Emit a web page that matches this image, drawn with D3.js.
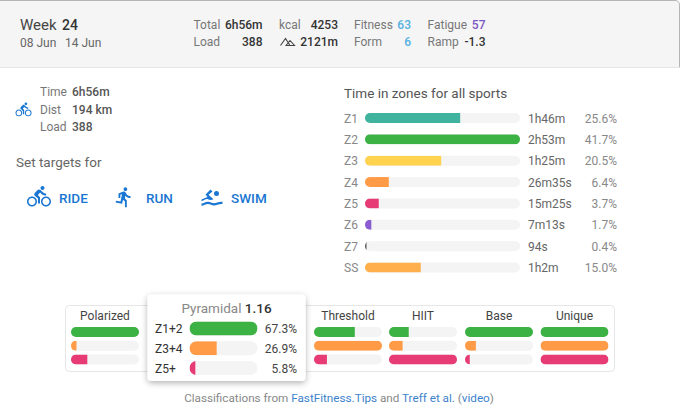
<!DOCTYPE html>
<html>
<head>
<meta charset="utf-8">
<script src="https://cdn.jsdelivr.net/npm/d3@7"></script>
<style>
    html, body { margin: 0; padding: 0; background: #fff; overflow: hidden; }
    svg { display: block; font-family: Roboto, sans-serif; }
    .lbl { fill: #777; }
    .val { fill: #333; font-weight: 500; }
</style>
</head>
<body>
<div id="chart"></div>
<script>
// zone bars
const zones = ["Z1", "Z2", "Z3", "Z4", "Z5", "Z6", "Z7", "SS"];
const zonePct = [25.6, 41.7, 20.5, 6.4, 3.7, 1.7, 0.4, 15.0];
const zoneTime = ["1h46m", "2h53m", "1h25m", "26m35s", "15m25s", "7m13s", "94s", "1h2m"];
const zoneColors = ["#3fb39d", "#3cb144", "#ffd24f", "#ff9a46", "#e63b75", "#8a5cd1", "#555555", "#ffb04c"];

// classification mini bars, each row relative to a full track
const models = ["Polarized", "Threshold", "HIIT", "Base", "Unique"];
const polarized = [100, 8, 24];
const threshold = [60, 100, 19];
const hiit = [29, 20, 100];
const base = [100, 16, 7];
const unique = [100, 100, 100];
const modelValues = [polarized, threshold, hiit, base, unique];
const groupColors = ["#3cb144", "#ff9a46", "#e63b75"];

// the highlighted classification
const pyrLabels = ["Z1+2", "Z3+4", "Z5+"];
const pyrPct = [67.3, 26.9, 5.8];

const W = 680, H = 408;
const svg = d3.select("#chart").append("svg").attr("width", W).attr("height", H);
const defs = svg.append("defs");
const shadow = defs.append("filter").attr("id", "shadow")
    .attr("x", "-10%").attr("y", "-10%").attr("width", "120%").attr("height", "125%");
shadow.append("feDropShadow").attr("dx", 0).attr("dy", 2).attr("stdDeviation", 3)
    .attr("flood-color", "#000").attr("flood-opacity", 0.3);

const BIKE = "M15.5 5.5c1.1 0 2-.9 2-2s-.9-2-2-2-2 .9-2 2 .9 2 2 2zM5 12c-2.8 0-5 2.2-5 5s2.2 5 5 5 5-2.2 5-5-2.2-5-5-5zm0 8.5c-1.9 0-3.5-1.6-3.5-3.5s1.6-3.5 3.5-3.5 3.5 1.6 3.5 3.5-1.6 3.5-3.5 3.5zm5.8-10l2.4-2.4.8.8c1.3 1.3 3 2.1 5.1 2.1V9c-1.5 0-2.7-.6-3.6-1.5l-1.9-1.9c-.5-.4-1-.6-1.6-.6s-1.1.2-1.4.6L7.8 8.4c-.4.4-.6.9-.6 1.4 0 .6.2 1.1.6 1.4L11 14v5h2v-6.2l-2.2-2.3zM19 12c-2.8 0-5 2.2-5 5s2.2 5 5 5 5-2.2 5-5-2.2-5-5-5zm0 8.5c-1.9 0-3.5-1.6-3.5-3.5s1.6-3.5 3.5-3.5 3.5 1.6 3.5 3.5-1.6 3.5-3.5 3.5z";
const RUN = "M13.49 5.48c1.1 0 2-.9 2-2s-.9-2-2-2-2 .9-2 2 .9 2 2 2zm-3.6 13.9l1-4.4 2.1 2v6h2v-7.5l-2.1-2 .6-3c1.3 1.5 3.3 2.5 5.5 2.5v-2c-1.9 0-3.5-1-4.3-2.4l-1-1.6c-.4-.6-1-1-1.7-1-.3 0-.5.1-.8.1l-5.2 2.2v4.7h2v-3.4l1.8-.7-1.6 8.1-4.9-1-.4 2 7 1.4z";
const SWIM = "M19 8.5a2.5 2.5 0 1 1-5 0a2.5 2.5 0 0 1 5 0zM10.5 4.5L12.5 6.5L8.500 9.800L13.500 14.200C11 15.500 9.500 15 8 14.300C6 13.500 4.500 15 1.500 16.200V14.500L7.500 12L5.500 9.500ZM1.500 18.600C4 18.500 5.500 16.800 8 16.800C10.500 16.800 11.500 18.300 14 18.300C16.500 18.300 18 16.500 22.500 16.800V19C18.500 18.700 16.500 20.500 14 20.500C11.500 20.500 10.500 19 8 19C5.500 19 4 20.700 1.500 20.800Z";

const text = (g, x, y, str, cls, size, anchor) => g.append("text")
    .attr("x", x).attr("y", y).attr("class", cls)
    .attr("font-size", size).attr("text-anchor", anchor || "start").text(str);

const icon = (d, x, y, scale, color) => svg.append("path").attr("d", d)
    .attr("transform", `translate(${x},${y}) scale(${scale})`).attr("fill", color);

// header band
svg.append("path").attr("d", "M0,68V1H675Q679,1 679,5V68Z").attr("fill", "#f5f5f5");
svg.append("path").attr("d", "M0,0.5H675Q679.5,0.5 679.5,5V68")
    .attr("fill", "none").attr("stroke", "#b5b5b5");
svg.append("line").attr("x1", 0).attr("x2", W).attr("y1", 67.5).attr("y2", 67.5).attr("stroke", "#e6e6e6");

const head = svg.append("g");
text(head, 20, 30, "Week", "lbl", 15).style("fill", "#444");
text(head, 62, 30, "24", "val", 14);
text(head, 20, 47, "08 Jun", "lbl", 12).style("fill", "#666");
text(head, 65, 47, "14 Jun", "lbl", 12).style("fill", "#666");
text(head, 193.5, 29, "Total", "lbl", 12);
text(head, 262.5, 29, "6h56m", "val", 12, "end");
text(head, 193.5, 46, "Load", "lbl", 12);
text(head, 262.5, 46, "388", "val", 12, "end");
text(head, 279, 29, "kcal", "lbl", 12);
text(head, 338, 29, "4253", "val", 12, "end");
head.append("path").attr("d", "M280.5,45.5L285.5,38.5L290,45.5M286,45.5L290,40.5L294.5,45.5Z")
    .attr("fill", "none").attr("stroke", "#444").attr("stroke-width", 1.1);
text(head, 338, 46, "2121m", "val", 12, "end");
text(head, 354, 29, "Fitness", "lbl", 12);
text(head, 411, 29, "63", "val", 12, "end").style("fill", "#54b0de");
text(head, 354, 46, "Form", "lbl", 12);
text(head, 411, 46, "6", "val", 12, "end").style("fill", "#54b0de");
text(head, 427.5, 29, "Fatigue", "lbl", 12);
text(head, 485.5, 29, "57", "val", 12, "end").style("fill", "#7c55c4");
text(head, 427.5, 46, "Ramp", "lbl", 12);
text(head, 485.5, 46, "-1.3", "val", 12, "end");

// left column
const left = svg.append("g");
icon(BIKE, 15.5, 101.5, 0.67, "#1976d2");
text(left, 40, 96, "Time", "lbl", 12);
text(left, 72, 96, "6h56m", "val", 12).style("fill", "#555");
text(left, 40, 113.5, "Dist", "lbl", 12);
text(left, 72, 113.5, "194 km", "val", 12).style("fill", "#555");
text(left, 40, 131, "Load", "lbl", 12);
text(left, 72, 131, "388", "val", 12).style("fill", "#555");
text(left, 16, 167, "Set targets for", "lbl", 13.5).style("fill", "#666");
icon(BIKE, 27, 184.5, 1, "#1976d2");
icon(RUN, 113, 186, 0.92, "#1976d2");
icon(SWIM, 200, 185, 1, "#1976d2");
[["RIDE", 59], ["RUN", 146], ["SWIM", 231]].forEach(([t, x]) =>
    text(left, x, 203, t, "val", 13.5).style("fill", "#1976d2"));

// draws a track and a fill clipped to its rounded ends
let clipId = 0;
const drawBar = (g, x0, y, w, h, frac, color) => {
    const id = "clip" + clipId++;
    const r = h / 2;
    defs.append("clipPath").attr("id", id).append("rect")
        .attr("x", x0).attr("y", y - r).attr("width", w).attr("height", h).attr("rx", r);
    g.append("rect").attr("x", x0).attr("y", y - r).attr("width", w).attr("height", h)
        .attr("rx", r).attr("fill", "#f4f4f4");
    g.append("rect").attr("x", x0).attr("y", y - r).attr("width", frac).attr("height", h)
        .attr("fill", color).attr("clip-path", `url(#${id})`);
};

// time in zones
const zoneG = svg.append("g");
text(zoneG, 344, 98, "Time in zones for all sports", "lbl", 13.5).style("fill", "#555");
const zoneY = d3.scalePoint().domain(zones).range([118, 267.5]);
const zoneX = d3.scaleLinear().domain([0, d3.max(zonePct)]).range([0, 155]);
zones.forEach((z, i) => {
    const y = zoneY(z);
    text(zoneG, 344, y + 4.5, z, "lbl", 12).style("fill", "#888");
    drawBar(zoneG, 365, y, zoneX.range()[1], 10, zoneX(zonePct[i]), zoneColors[i]);
    text(zoneG, 528, y + 4.5, zoneTime[i], "lbl", 12).style("fill", "#666");
    text(zoneG, 617, y + 4.5, zonePct[i].toFixed(1) + "%", "lbl", 12, "end").style("fill", "#888");
});

// classification strip
const strip = svg.append("g");
strip.append("rect").attr("x", 65.5).attr("y", 305.5).attr("width", 549).attr("height", 66)
    .attr("rx", 4).attr("fill", "#fff").attr("stroke", "#e6e6e6");
const colX = d3.scaleOrdinal().domain(models).range([71, 314, 389, 465, 540.5]);
const rowY = d3.scalePoint().domain(d3.range(3)).range([332, 359.5]);
const colFrac = d3.scaleLinear().domain([0, 100]).range([0, 68]);
models.forEach((m, c) => {
    text(strip, colX(m) + 34, 320, m, "lbl", 12, "middle").style("fill", "#444");
    modelValues[c].forEach((v, r) => drawBar(strip, colX(m), rowY(r), colFrac.range()[1], 10, colFrac(v), groupColors[r]));
});

// highlighted card
const card = svg.append("g");
card.append("rect").attr("x", 147.5).attr("y", 294.5).attr("width", 158).attr("height", 86.5)
    .attr("rx", 4).attr("fill", "#fff").attr("filter", "url(#shadow)");
const title = text(card, 226.5, 313, "", "lbl", 13.5, "middle");
title.append("tspan").text("Pyramidal").style("fill", "#888");
title.append("tspan").text(" 1.16").style("fill", "#333").attr("font-weight", 500);
const pyrY = d3.scalePoint().domain(pyrLabels).range([328.5, 368]);
const pyrX = d3.scaleLinear().domain([0, d3.max(pyrPct)]).range([0, 68]);
pyrLabels.forEach((l, i) => {
    const y = pyrY(l);
    text(card, 155, y + 4.5, l, "lbl", 12).style("fill", "#333");
    drawBar(card, 189.5, y, pyrX.range()[1], 14, pyrX(pyrPct[i]), groupColors[i]);
    text(card, 297, y + 4.5, pyrPct[i].toFixed(1) + "%", "lbl", 12, "end").style("fill", "#444");
});

// footer
const foot = text(svg, 339, 402, "", "lbl", 11.7, "middle");
[["Classifications from ", "#888"], ["FastFitness.Tips", "#3d82cc"], [" and ", "#888"],
 ["Treff et al.", "#3d82cc"], [" (", "#888"], ["video", "#3d82cc"], [")", "#888"]].forEach(([t, c]) =>
    foot.append("tspan").text(t).style("fill", c));
</script>
</body>
</html>
